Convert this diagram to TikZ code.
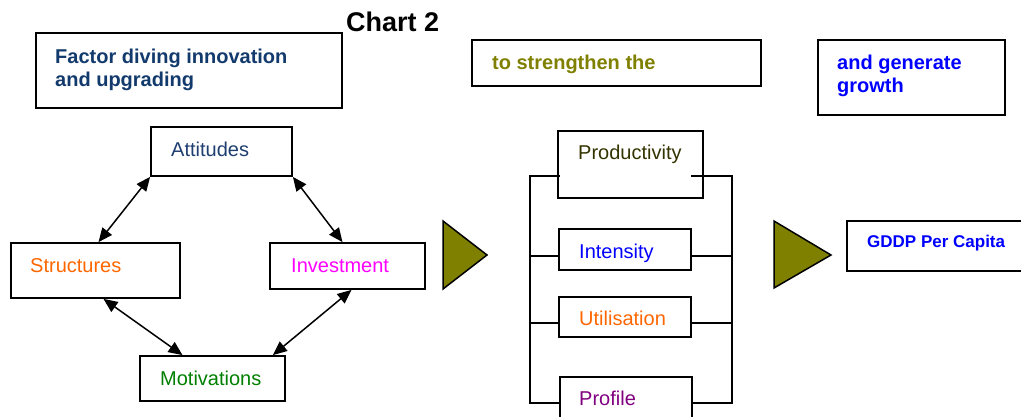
\documentclass[tikz,border=0pt]{standalone}
\usepackage{fontspec}
\setmainfont{Liberation Sans}
\usetikzlibrary{fit,arrows.meta}
\definecolor{facblue}{RGB}{18,58,108}
\definecolor{attblue}{RGB}{30,62,112}
\definecolor{olivetx}{RGB}{128,128,0}
\definecolor{puretblue}{RGB}{0,0,255}
\definecolor{orangetx}{RGB}{255,102,0}
\definecolor{magentatx}{RGB}{255,0,255}
\definecolor{greentx}{RGB}{0,128,0}
\definecolor{prodtx}{RGB}{51,51,0}
\definecolor{purpletx}{RGB}{128,0,128}
\definecolor{olivefill}{RGB}{128,128,0}
\begin{document}
\begin{tikzpicture}[x=1pt,y=-1pt,
  box/.style={draw, line width=1.8pt, inner sep=0pt},
  txt/.style={anchor=base west, inner sep=0pt, font=\fontsize{20}{23}\selectfont},
  btxt/.style={anchor=base west, inner sep=0pt, font=\fontsize{20}{23}\selectfont\bfseries},
  conn/.style={line width=1.8pt},
  dbl/.style={line width=1.5pt, {Triangle[length=14pt,width=12pt]}-{Triangle[length=14pt,width=12pt]}},
  tri/.style={draw, line width=1.5pt, fill=olivefill, line join=miter}]
\useasboundingbox (0,0) rectangle (1021,416);

% title
\node[anchor=base west, inner sep=0pt, font=\fontsize{27}{30}\selectfont\bfseries] (title) at (346,31) {Chart 2};

% header boxes
\node[box, fit={(36,33) (342,108)}] (fac) {};
\node[btxt, text=facblue] (facA) at (55,63) {Factor diving innovation};
\node[btxt, text=facblue] (facB) at (55,86) {and upgrading};

\node[box, fit={(472,40) (761,86)}] (stg) {};
\node[btxt, text=olivetx] (stgT) at (492,69) {to strengthen the};

\node[box, fit={(818,40) (1005,115)}] (gen) {};
\node[btxt, text=puretblue] (genA) at (837,69) {and generate};
\node[btxt, text=puretblue] (genB) at (837,92) {growth};

% left cycle
\node[box, fit={(151,127) (292,176)}] (att) {};
\node[txt, text=attblue] (attT) at (171,156) {Attitudes};
\node[box, fit={(11,243) (180,298)}] (stc) {};
\node[txt, text=orangetx] (stcT) at (30,272) {Structures};
\node[box, fit={(270,243) (425,289)}] (inv) {};
\node[txt, text=magentatx] (invT) at (291,272) {Investment};
\node[box, fit={(140,356) (285,401)}] (mot) {};
\node[txt, text=greentx] (motT) at (160,385) {Motivations};

\draw[dbl] (att.south west) -- ([xshift=3pt]stc.north);
\draw[dbl] (att.south east) -- ([xshift=-5pt]inv.north);
\draw[dbl] ([xshift=8pt]stc.south) -- ([xshift=-30pt]mot.north);
\draw[dbl] ([xshift=4pt]inv.south) -- ([xshift=-13pt]mot.north east);

% triangles
\draw[tri] (443,221) -- (487,255) -- (443,289) -- cycle;
\draw[tri] (774,221) -- (831,255) -- (774,288) -- cycle;

% middle column
\node[box, fit={(558,131) (703,198)}] (pro) {};
\node[txt, text=prodtx] (proT) at (578,159) {Productivity};
\node[box, fit={(559,229) (691,270)}] (int) {};
\node[txt, text=puretblue] (intT) at (579,258) {Intensity};
\node[box, fit={(559,297) (691,337)}] (uti) {};
\node[txt, text=orangetx] (utiT) at (579,325) {Utilisation};
\node[box, fit={(560,377) (692,429)}] (prf) {};
\node[txt, text=purpletx] (prfT) at (579,405) {Profile};

\coordinate (lx) at (530,0);
\coordinate (rx) at (732,0);
\coordinate (pl) at (560,176);
\coordinate (pr) at (691,176);
\coordinate (intL) at ([yshift=-6.5pt]int.west);
\coordinate (intR) at ([yshift=-6.5pt]int.east);
\coordinate (utiL) at ([yshift=-6pt]uti.west);
\coordinate (utiR) at ([yshift=-6pt]uti.east);

\draw[conn, line join=miter] (pl) -- (lx |- pl) -- (lx |- prf.west) -- (prf.west);
\draw[conn, line join=miter] (pr) -- (rx |- pr) -- (rx |- prf.east) -- (prf.east);
\draw[conn] (intL) -- (lx |- intL);
\draw[conn] (intR) -- (rx |- intR);
\draw[conn] (utiL) -- (lx |- utiL);
\draw[conn] (utiR) -- (rx |- utiR);

% output
\node[box, fit={(847,221) (1030,271)}] (gdp) {};
\node[anchor=base west, inner sep=0pt, font=\fontsize{17}{20}\selectfont\bfseries, text=puretblue] (gdpT) at (867,247) {GDDP Per Capita};
\end{tikzpicture}
\end{document}
